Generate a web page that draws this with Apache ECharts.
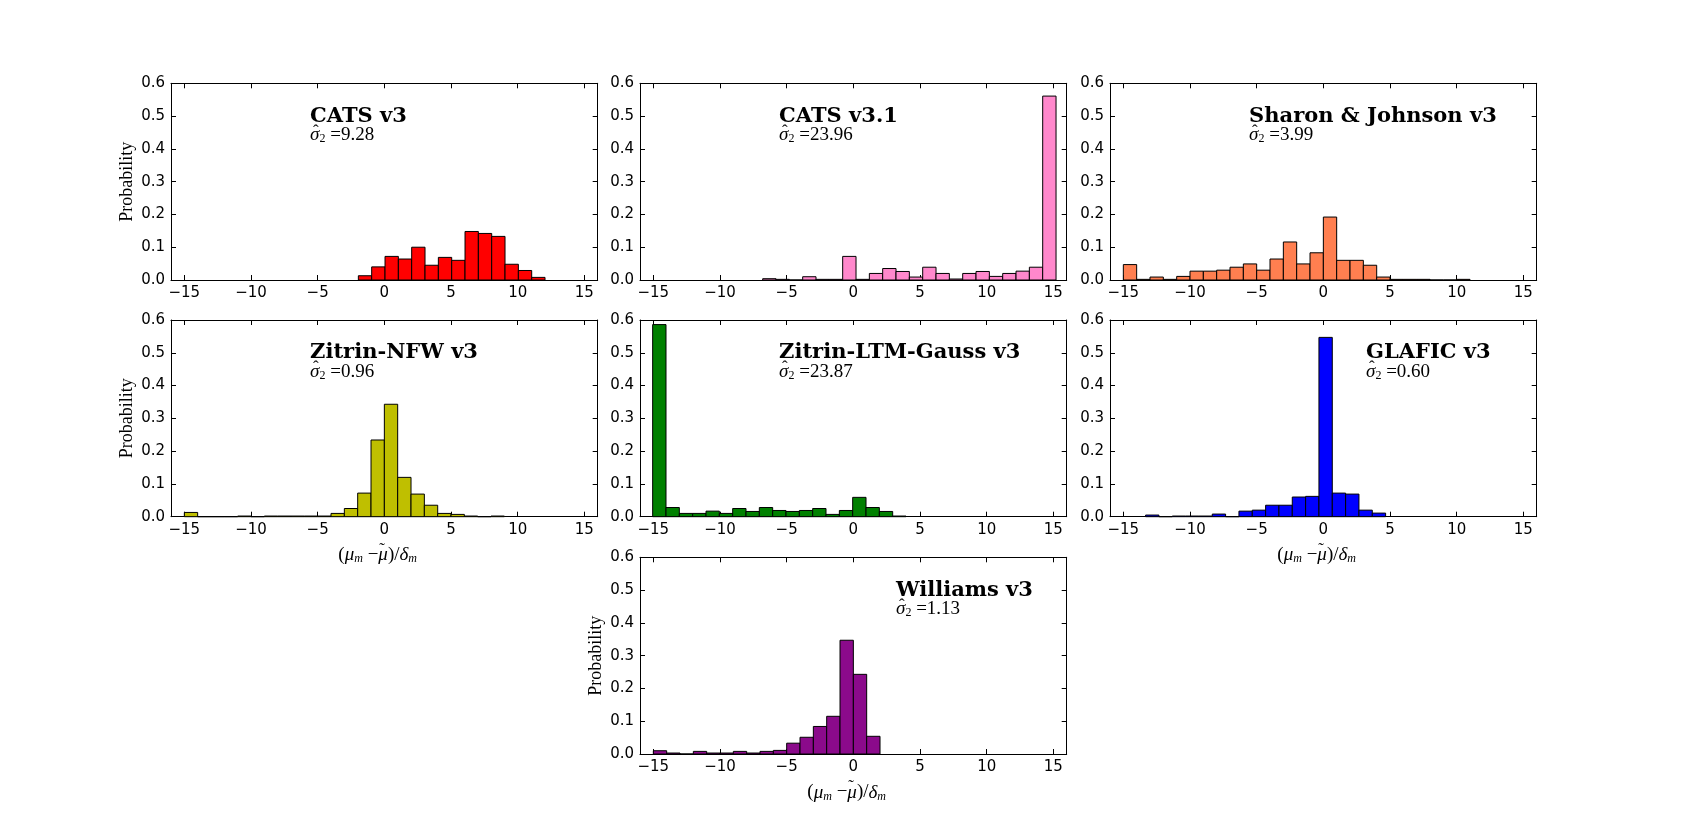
<!DOCTYPE html>
<html>
<head>
<meta charset="utf-8" />
<title>histograms</title>
<style type="text/css">
*{margin:0;padding:0;}
#main{width:1707px;height:838px;background:#fff;}
</style>
</head>
<body>
<div id="main"></div>
<script src="https://cdn.jsdelivr.net/npm/echarts@6/dist/echarts.min.js"></script>
<script type="text/javascript">
// values, one bin = 1 unit wide
var names = ['CATS v3', 'CATS v3.1', 'Sharon & Johnson v3', 'Zitrin-NFW v3', 'Zitrin-LTM-Gauss v3', 'GLAFIC v3', 'Williams v3'];
var sigmas = ['9.28', '23.96', '3.99', '0.96', '23.87', '0.60', '1.13'];
var binStarts = [-1.95, -6.8, -15, -15, -15.05, -13.33, -15];

var catsV3 = [0.013, 0.040, 0.072, 0.064, 0.100, 0.045, 0.069, 0.060, 0.148, 0.142, 0.133, 0.048, 0.029, 0.008];
var catsV31 = [0.004, 0.002, 0, 0.010, 0.002, 0.002, 0.072, 0.002, 0.020, 0.035, 0.026, 0.009, 0.039, 0.020, 0.003, 0.020, 0.026, 0.011, 0.020, 0.027, 0.039, 0.561];
var sharon = [0.047, 0.002, 0.009, 0.002, 0.011, 0.027, 0.027, 0.030, 0.039, 0.049, 0.030, 0.064, 0.116, 0.049, 0.083, 0.192, 0.060, 0.060, 0.045, 0.009, 0.002, 0.002, 0.002, 0, 0, 0.002];
var zitrinNfw = [0.013, 0, 0, 0, 0.002, 0, 0.002, 0.002, 0.002, 0.002, 0.002, 0.010, 0.025, 0.072, 0.234, 0.343, 0.120, 0.069, 0.035, 0.010, 0.007, 0.002, 0, 0.002];
var zitrinLtm = [0.586, 0.028, 0.010, 0.010, 0.017, 0.010, 0.025, 0.016, 0.028, 0.019, 0.016, 0.019, 0.025, 0.007, 0.019, 0.059, 0.028, 0.016, 0.002];
var glafic = [0.005, 0, 0.002, 0.002, 0.002, 0.008, 0, 0.017, 0.020, 0.035, 0.035, 0.060, 0.062, 0.547, 0.072, 0.069, 0.020, 0.011];
var williams = [0.010, 0.003, 0, 0.008, 0.003, 0.003, 0.008, 0.003, 0.008, 0.011, 0.033, 0.051, 0.084, 0.115, 0.347, 0.243, 0.054];
var allValues = [catsV3, catsV31, sharon, zitrinNfw, zitrinLtm, glafic, williams];

var xTicks = [-15, -10, -5, 0, 5, 10, 15];

// look and layout
var colors = ['#ff0000', '#ff88cc', '#ff7f50', '#bfbf00', '#008000', '#0000ff', '#8b0a8b'];
var lefts = [171, 640, 1110], tops = [83.3, 320, 557.3], W = 426.7, H = 196.7;
var cells = [[0, 0], [1, 0], [2, 0], [0, 1], [1, 1], [2, 1], [1, 2]];
var titleFrac = [0.326, 0.326, 0.326, 0.326, 0.326, 0.6, 0.6];
var showYName = [true, false, false, true, false, false, true];
var showXName = [false, false, false, true, false, true, true];

var tickFont = {fontFamily: 'DejaVu Sans', fontSize: 15, color: '#000'};
var serif = 'Liberation Serif';

function minusFmt(v) {
	return v < 0 ? '\u2212' + (-v) : '' + v;
}

var grid = [], xAxis = [], yAxis = [], series = [], graphic = [];

cells.forEach(function(c, k) {
	var left = lefts[c[0]], top = tops[c[1]];
	grid.push({left: left, top: top, width: W, height: H, containLabel: false});

	var lineStyle = {color: '#000', width: 1};
	xAxis.push({
		type: 'value', gridIndex: k, min: -16, max: 16, position: 'bottom',
		splitLine: {show: false},
		axisLine: {show: true, onZero: false, lineStyle: lineStyle},
		axisTick: {inside: true, length: 5, customValues: xTicks, lineStyle: lineStyle},
		axisLabel: Object.assign({margin: 6, customValues: xTicks, formatter: minusFmt}, tickFont)
	});
	xAxis.push({
		type: 'value', gridIndex: k, min: -16, max: 16, position: 'top',
		splitLine: {show: false},
		axisLine: {show: true, onZero: false, lineStyle: lineStyle},
		axisTick: {inside: true, length: 5, customValues: xTicks, lineStyle: lineStyle},
		axisLabel: {show: false}
	});
	yAxis.push({
		type: 'value', gridIndex: k, min: 0, max: 0.6, interval: 0.1, position: 'left',
		splitLine: {show: false},
		axisLine: {show: true, onZero: false, lineStyle: lineStyle},
		axisTick: {inside: true, length: 5, lineStyle: lineStyle},
		axisLabel: Object.assign({margin: 6, formatter: function(v) { return v.toFixed(1); }}, tickFont),
		name: showYName[k] ? 'Probability' : '', nameLocation: 'middle', nameGap: 35,
		nameTextStyle: {fontFamily: serif, fontSize: 18, color: '#000'}
	});
	yAxis.push({
		type: 'value', gridIndex: k, min: 0, max: 0.6, interval: 0.1, position: 'right',
		splitLine: {show: false},
		axisLine: {show: true, onZero: false, lineStyle: lineStyle},
		axisTick: {inside: true, length: 5, lineStyle: lineStyle},
		axisLabel: {show: false}
	});

	var start = binStarts[k];
	var data = allValues[k].map(function(v, i) {
		return [start + i, start + i + 1, v];
	});
	series.push({
		type: 'custom', name: names[k],
		xAxisIndex: 2 * k, yAxisIndex: 2 * k,
		itemStyle: {color: colors[k]},
		encode: {x: [0, 1], y: 2},
		data: data,
		renderItem: function(params, api) {
			var p0 = api.coord([api.value(0), api.value(2)]);
			var p1 = api.coord([api.value(1), 0]);
			return {
				type: 'rect',
				shape: {x: p0[0], y: p0[1], width: p1[0] - p0[0], height: p1[1] - p0[1]},
				style: {fill: api.visual('color'), stroke: '#000', lineWidth: 1}
			};
		}
	});

	// panel title and sigma line
	var tx = left + titleFrac[k] * W;
	var ty = top + 0.2 * H;
	graphic.push({
		type: 'text', left: tx, top: ty - 17,
		style: {text: names[k], fontFamily: 'DejaVu Serif', fontWeight: 'bold', fontSize: 21, fill: '#000'}
	});
	graphic.push({
		type: 'text', left: tx, top: ty + 3,
		style: {
			text: '{s|σ}{sub|2}{n| =' + sigmas[k] + '}',
			rich: {
				s: {fontFamily: serif, fontStyle: 'italic', fontSize: 19, fill: '#000'},
				sub: {fontFamily: serif, fontSize: 12, fill: '#000', padding: [8, 0, 0, 0]},
				n: {fontFamily: serif, fontSize: 19, fill: '#000'}
			}
		}
	});
	graphic.push({
		type: 'text', left: tx + 3, top: ty,
		style: {text: '\u02c6', fontFamily: serif, fontSize: 17, fill: '#000'}
	});

	// x axis label drawn as text so the tilde can sit on mu
	if (showXName[k]) {
		var cx = left + W / 2, cy = top + H + 40;
		graphic.push({
			type: 'text', left: cx - 46, top: cy - 11,
			style: {
				text: '{n|(}{i|μ}{sub|m}{n| −}{i|μ}{n|)/}{i|δ}{sub|m}',
				rich: {
					n: {fontFamily: serif, fontSize: 19, fill: '#000'},
					i: {fontFamily: serif, fontStyle: 'italic', fontSize: 19, fill: '#000'},
					sub: {fontFamily: serif, fontStyle: 'italic', fontSize: 12, fill: '#000', padding: [8, 0, 0, 0]}
				}
			}
		});
		graphic.push({
			type: 'text', left: cx - 5, top: cy - 16,
			style: {text: '\u02dc', fontFamily: serif, fontSize: 17, fill: '#000'}
		});
	}
});

var chart = echarts.init(document.getElementById('main'));
chart.setOption({
	animation: false,
	backgroundColor: '#fff',
	grid: grid,
	xAxis: xAxis,
	yAxis: yAxis,
	series: series,
	graphic: graphic
});
</script>
</body>
</html>
